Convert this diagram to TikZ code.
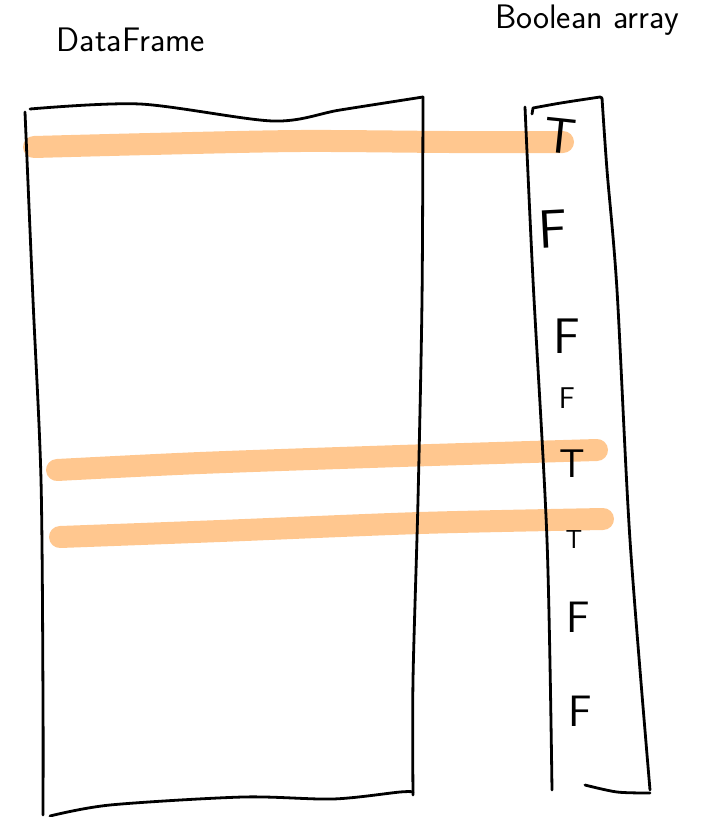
\documentclass[tikz,border=0pt]{standalone}
\definecolor{hlorange}{RGB}{255,199,143}
\begin{document}
\begin{tikzpicture}[x=1pt,y=-1pt,
  ink/.style={line width=2.8pt, line cap=round, line join=round, black},
  hl/.style={line width=22pt, line cap=round, draw=hlorange},
  lbl/.style={font=\sffamily\fontsize{34}{40}\selectfont, inner sep=0pt},
  tf/.style={font=\sffamily\fontsize{#1}{#1}\selectfont, inner sep=0pt}]
\useasboundingbox (0,0) rectangle (708,817);
% labels
\node[lbl] (dflabel) at (131,40) {DataFrame};
\node[lbl] (balabel) at (587,20) {Boolean array};
% highlights
\draw[hl] plot[smooth] coordinates {(34,147) (150,144) (300,141) (450,142) (563,142)};
\draw[hl] plot[smooth] coordinates {(57,470) (200,463) (400,456) (597,450)};
\draw[hl] plot[smooth] coordinates {(60,537) (220,531) (420,523) (603,519)};
% DataFrame box
\draw[ink] plot[smooth] coordinates {(25,112) (33,300) (41,480) (43,700) (43,815)};
\draw[ink] plot[smooth] coordinates {(30,109) (140,104) (273,121) (340,110) (423,97)};
\draw[ink] plot[smooth] coordinates {(423,97) (422,300) (418,500) (413,680) (413,795)};
\draw[ink] plot[smooth] coordinates {(50,816) (110,805) (243,797) (333,799) (400,792) (413,792)};
% Boolean array box
\draw[ink] plot[smooth] coordinates {(525,107) (533,280) (547,540) (552,790)};
\draw[ink] (532,114) -- (533,108) .. controls (560,103) .. (600,97) -- (602,98);
\draw[ink] plot[smooth] coordinates {(602,98) (607,170) (617,290) (630,540) (650,790)};
\draw[ink] plot[smooth] coordinates {(585,785) (617,792) (650,793)};
% values
\node[tf=50, rotate=-6] (v1) at (560,136) {T};
\node[tf=54, rotate=3] (v2) at (553,229) {F};
\node[tf=50] (v3) at (567,336) {F};
\node[tf=30] (v4) at (567,398) {F};
\node[tf=40] (v5) at (572,464) {T};
\node[tf=26] (v6) at (574,540) {T};
\node[tf=44] (v7) at (578,617) {F};
\node[tf=44] (v8) at (580,711) {F};
\end{tikzpicture}
\end{document}
